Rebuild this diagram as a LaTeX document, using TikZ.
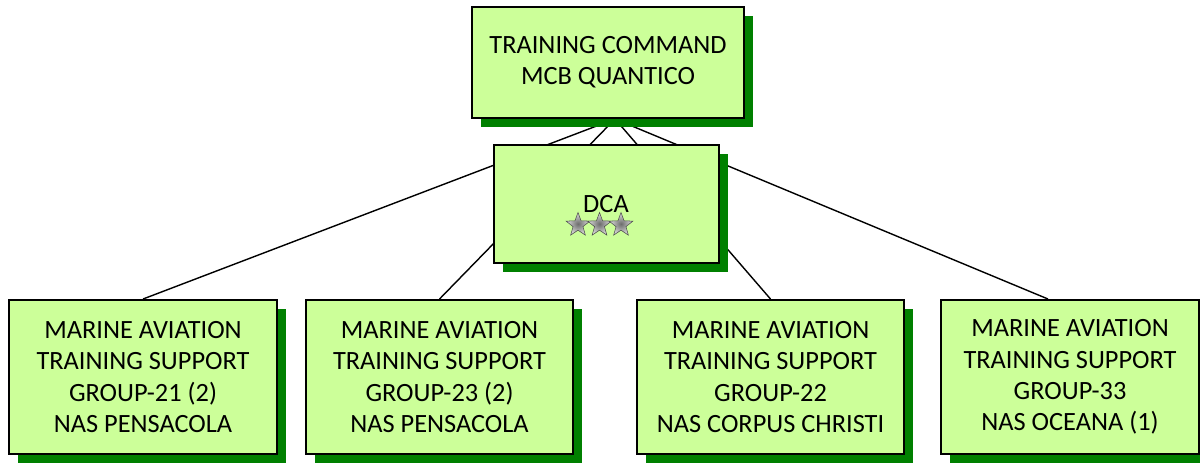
\documentclass[tikz,border=0pt]{standalone}
\usepackage{fontspec}
\setmainfont{Carlito}
\usetikzlibrary{shapes.geometric,shadows,backgrounds}
\definecolor{unitfill}{RGB}{204,255,153}
\definecolor{unitshadow}{RGB}{0,128,0}
\begin{document}
\begin{tikzpicture}[
  unit/.style={draw, line width=1.1pt, fill=unitfill, align=center, inner sep=0pt,
    font=\fontsize{15}{17.8}\selectfont,
    drop shadow={shadow xshift=0.18cm, shadow yshift=-0.18cm, fill=unitshadow, opacity=1}},
  group/.style={unit, minimum width=5.36cm, minimum height=3.08cm},
  rank/.style={star, star points=5, star point ratio=2.4, minimum size=0.5cm, inner sep=0pt,
    draw=gray!60!black, line width=0.3pt, shade, inner color=gray!85!black, outer color=gray!25},
  link/.style={line width=0.8pt}
]
\useasboundingbox (0,0) rectangle (24,9.24);
\node[unit, minimum width=5.44cm, minimum height=2.22cm] (tc) at (12.16,7.99) {TRAINING COMMAND\\MCB QUANTICO};
\node[unit, minimum width=4.5cm, minimum height=2.36cm] (dca) at (12.13,5.16) {};
\node[font=\fontsize{15}{17.8}\selectfont, inner sep=0pt] (dcaname) at (12.12,5.15) {DCA};
\foreach \x/\n in {11.56/1, 11.99/2, 12.42/3}
  \node[rank] (star\n) at (\x,4.74) {};
\node[group] (b1) at (2.86,1.70) {MARINE AVIATION\\TRAINING SUPPORT\\GROUP-21 (2)\\NAS PENSACOLA};
\node[group, minimum width=5.34cm] (b2) at (8.79,1.70) {MARINE AVIATION\\TRAINING SUPPORT\\GROUP-23 (2)\\NAS PENSACOLA};
\node[group, minimum width=5.34cm] (b3) at (15.41,1.70) {MARINE AVIATION\\TRAINING SUPPORT\\GROUP-22\\NAS CORPUS CHRISTI};
\node[group, minimum width=5.16cm] (b4) at (21.40,1.70) {MARINE AVIATION\\TRAINING SUPPORT\\GROUP-33\\NAS OCEANA (1)};
\coordinate (hub) at ([xshift=0.14cm]tc.south);
% lines run behind the boxes
\begin{pgfonlayer}{background}
\foreach \g in {b1,b2,b3}
  \draw[link] (hub) -- (\g.north);
\draw[link] (hub) -- ([xshift=-0.44cm]b4.north);
\end{pgfonlayer}
\end{tikzpicture}
\end{document}
